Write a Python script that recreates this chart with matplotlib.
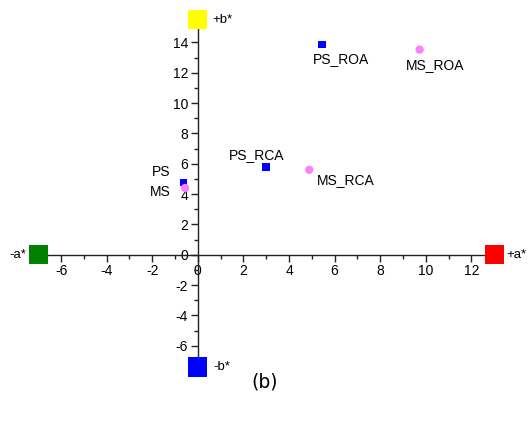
import matplotlib.pyplot as plt
from matplotlib.ticker import MultipleLocator

plt.rcParams['font.family'] = ['Liberation Sans', 'DejaVu Sans']
plt.rcParams['axes.unicode_minus'] = False

# 样品点 (a*, b*)
ps_names = ['PS', 'PS_RCA', 'PS_ROA']
ps_a = [-0.63, 2.99, 5.45]
ps_b = [4.77, 5.80, 13.85]

ms_names = ['MS', 'MS_RCA', 'MS_ROA']
ms_a = [-0.56, 4.89, 9.73]
ms_b = [4.40, 5.60, 13.52]

# 色度轴端点
pole_names = ['+a*', '-a*', '+b*', '-b*']
pole_a = [13.0, -7.0, 0.0, 0.0]
pole_b = [0.0, 0.0, 15.5, -7.4]
pole_colors = ['#ff0000', '#008000', '#ffff00', '#0000ff']

fig = plt.figure(figsize=(5.30, 4.21), dpi=100)
ax = fig.add_axes([0.0723, 0.1283, 0.860, 0.825])
ax.set_xlim(-7.0, 13.0)
ax.set_ylim(-7.4, 15.5)

# 坐标轴穿过原点
ax.spines['left'].set_position(('data', 0))
ax.spines['bottom'].set_position(('data', 0))
ax.spines['top'].set_visible(False)
ax.spines['right'].set_visible(False)
for s in ['left', 'bottom']:
    ax.spines[s].set_color('#222222')
    ax.spines[s].set_linewidth(1.0)

ax.xaxis.set_minor_locator(MultipleLocator(1))
ax.yaxis.set_minor_locator(MultipleLocator(1))
ax.set_xticks([-6, -4, -2, 0, 2, 4, 6, 8, 10, 12])
ax.set_yticks([-6, -4, -2, 0, 2, 4, 6, 8, 10, 12, 14])
ax.tick_params(which='major', direction='out', length=5, width=1, labelsize=10, color='#222222', pad=2)
ax.tick_params(which='minor', direction='out', length=3, width=1, color='#222222')

# 端点方块
for name, a, b, c in zip(pole_names, pole_a, pole_b, pole_colors):
    ax.scatter([a], [b], marker='s', s=190, color=c, edgecolors='none', zorder=5, clip_on=False)

ax.text(13.55, 0, '+a*', fontsize=9.5, va='center', ha='left')
ax.text(-7.55, 0, '-a*', fontsize=9.5, va='center', ha='right')
ax.text(0.62, 15.5, '+b*', fontsize=9.5, va='center', ha='left')
ax.text(0.68, -7.4, '-b*', fontsize=9.5, va='center', ha='left')

ax.scatter(ps_a, ps_b, marker='s', s=30, color='#0000ff', edgecolors='none', zorder=4)
ax.scatter(ms_a, ms_b, marker='o', s=36, color='#ff80ff', edgecolors='none', zorder=4)

# 样品标签
ax.text(-1.2, 5.45, 'PS', fontsize=10, ha='right', va='center')
ax.text(-1.2, 4.15, 'MS', fontsize=10, ha='right', va='center')
ax.text(2.6, 6.6, 'PS_RCA', fontsize=10, ha='center', va='center')
ax.text(6.5, 4.9, 'MS_RCA', fontsize=10, ha='center', va='center')
ax.text(6.3, 12.9, 'PS_ROA', fontsize=10, ha='center', va='center')
ax.text(10.4, 12.5, 'MS_ROA', fontsize=10, ha='center', va='center')

fig.text(0.5, 0.093, '(b)', fontsize=13.5, ha='center', va='center', family=['DejaVu Sans'])

fig.savefig('out.png', dpi=100)
